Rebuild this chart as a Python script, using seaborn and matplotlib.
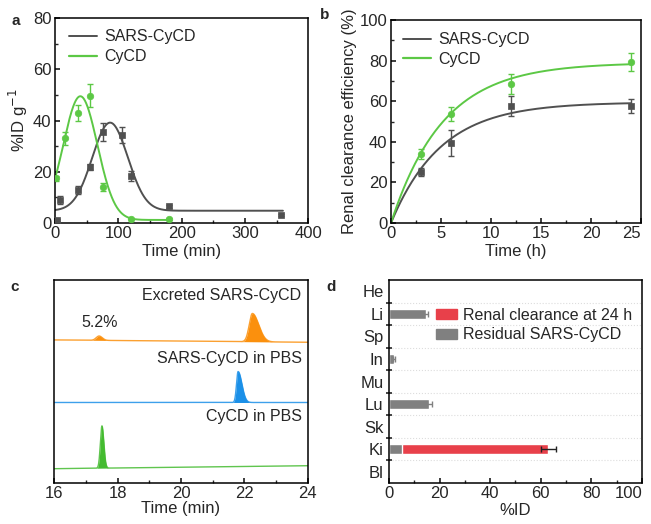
import numpy as np
import pandas as pd
import matplotlib
matplotlib.use("Agg")
import matplotlib.pyplot as plt
import seaborn as sns
from matplotlib.patches import Patch
from matplotlib.lines import Line2D
from matplotlib.ticker import MultipleLocator

# ---------------- data ----------------
# Panel a: blood kinetics (%ID g-1)
a_sars_t = [3, 8, 36, 56, 76, 106, 120, 180, 357]
a_sars_y = [1.0, 8.9, 13.0, 22.0, 35.5, 34.3, 18.3, 6.5, 3.3]
a_sars_err = [0.4, 1.5, 1.5, 1.2, 3.5, 3.0, 2.0, 0.5, 0.4]
a_cycd_t = [2, 16, 36, 56, 76, 120, 180]
a_cycd_y = [17.4, 33.0, 43.0, 49.7, 14.1, 1.7, 1.5]
a_cycd_err = [1.0, 2.5, 3.0, 4.5, 1.5, 0.3, 0.3]
# Gaussian fit parameters: baseline, amplitude, centre, width, last time
a_sars_fit = [4.8, 34.4, 87.0, 28.0, 360.0]
a_cycd_fit = [1.2, 48.3, 40.0, 27.0, 180.0]

# Panel b: renal clearance efficiency (%)
b_t = [3, 6, 12, 24]
b_sars = [25.0, 39.5, 57.7, 57.7]
b_sars_err = [2.0, 6.5, 5.0, 3.5]
b_cycd = [34.0, 53.6, 68.5, 79.3]
b_cycd_err = [2.5, 3.5, 5.0, 4.5]
# exponential rise fit parameters: plateau, time constant (h)
b_sars_fit = [59.5, 5.0]
b_cycd_fit = [79.0, 5.2]
b_xticks = [0, 5, 10, 15, 20, 25]

# Panel c: HPLC traces, peak parameters (centre min, height, left width, right width)
c_names = ["Excreted SARS-CyCD", "SARS-CyCD in PBS", "CyCD in PBS"]
c_baseline_left = [430, 242, 43]
c_baseline_right = [423, 242, 52]
c_peak_centres = [[17.42, 22.25], [21.80], [17.51]]
c_peak_heights = [[13, 85], [93], [127]]
c_peak_wl = [[0.09, 0.10], [0.05], [0.05]]
c_peak_wr = [[0.10, 0.20], [0.12], [0.06]]
c_annot = "5.2%"

# Panel d: biodistribution (%ID)
d_organs = ["He", "Li", "Sp", "In", "Mu", "Lu", "Sk", "Ki", "Bl"]
d_residual = [0, 14.5, 0, 2.0, 0, 16.0, 0, 5.0, 0]
d_residual_err = [0, 1.0, 0, 0.5, 0, 1.0, 0, 0, 0]
d_renal = [0, 0, 0, 0, 0, 0, 0, 58.0, 0]
d_renal_err = [0, 0, 0, 0, 0, 0, 0, 3.0, 0]
d_xticks = [0, 20, 40, 60, 80, 100]

# ---------------- style ----------------
sns.set_theme(style="ticks")
plt.rcParams["font.family"] = ["Liberation Sans", "DejaVu Sans"]
TXT = 11.5
plt.rcParams.update({
    "font.size": TXT,
    "axes.labelsize": 12,
    "xtick.labelsize": 12,
    "ytick.labelsize": 12,
    "legend.fontsize": TXT,
    "axes.linewidth": 1.1,
    "axes.edgecolor": "black",
    "xtick.direction": "in",
    "ytick.direction": "in",
    "xtick.major.size": 3.5,
    "ytick.major.size": 3.5,
    "xtick.minor.size": 2,
    "ytick.minor.size": 2,
    "xtick.major.pad": 2.5,
    "ytick.major.pad": 2.5,
    "axes.labelpad": 2,
})

GRAY = "#505050"
GREEN = "#5cc845"
ORANGE = "#fb900d"
BLUE = "#1b90e8"
CGREEN = "#44bb30"
RED = "#e8404a"
BARGRAY = "#808080"

fig = plt.figure(figsize=(6.51, 5.24), dpi=100)
ax_a = fig.add_axes([0.0845, 0.5744, 0.389, 0.391])
ax_b = fig.add_axes([0.6006, 0.5744, 0.384, 0.3874])
ax_c = fig.add_axes([0.083, 0.0782, 0.390, 0.3874])
ax_d = fig.add_axes([0.5975, 0.0782, 0.3887, 0.3874])

# ---------------- panel a ----------------
def gauss_fit(p, n=400):
    y0, amp, xc, w, tmax = p
    t = np.linspace(0, tmax, n)
    return t, y0 + amp * np.exp(-(t - xc) ** 2 / (2 * w ** 2))

for t, y, e, fit, col, mk in [
    (a_sars_t, a_sars_y, a_sars_err, a_sars_fit, GRAY, "s"),
    (a_cycd_t, a_cycd_y, a_cycd_err, a_cycd_fit, GREEN, "o"),
]:
    ft, fy = gauss_fit(fit)
    sns.lineplot(x=ft, y=fy, ax=ax_a, color=col, lw=1.4)
    ax_a.errorbar(t, y, yerr=e, fmt="none", ecolor=col, elinewidth=1, capsize=2.2, capthick=1)
    sns.scatterplot(x=t, y=y, ax=ax_a, color=col, marker=mk, s=22, edgecolor=col, linewidth=0.5, zorder=3)

ax_a.set_xlim(0, 400)
ax_a.set_ylim(0, 80)
ax_a.xaxis.set_major_locator(MultipleLocator(100))
ax_a.xaxis.set_minor_locator(MultipleLocator(50))
ax_a.yaxis.set_major_locator(MultipleLocator(20))
ax_a.yaxis.set_minor_locator(MultipleLocator(10))
ax_a.set_xlabel("Time (min)")
ax_a.set_ylabel("%ID g$^{-1}$")
ax_a.legend(handles=[Line2D([], [], color=GRAY, lw=1.4), Line2D([], [], color=GREEN, lw=1.6)],
            labels=["SARS-CyCD", "CyCD"], loc="upper left", bbox_to_anchor=(0.01, 1.0),
            frameon=False, handlelength=1.75, handletextpad=0.45, labelspacing=0.3, borderaxespad=0.3)

# ---------------- panel b ----------------
def exp_fit(p, n=300):
    A, tau = p
    t = np.linspace(0, 24, n)
    return t, A * (1 - np.exp(-t / tau))

for y, e, fit, col, mk in [
    (b_sars, b_sars_err, b_sars_fit, GRAY, "s"),
    (b_cycd, b_cycd_err, b_cycd_fit, GREEN, "o"),
]:
    ft, fy = exp_fit(fit)
    sns.lineplot(x=ft, y=fy, ax=ax_b, color=col, lw=1.4)
    ax_b.errorbar(b_t, y, yerr=e, fmt="none", ecolor=col, elinewidth=1, capsize=2.2, capthick=1)
    sns.scatterplot(x=b_t, y=y, ax=ax_b, color=col, marker=mk, s=22, edgecolor=col, linewidth=0.5, zorder=3)

ax_b.set_xlim(0, 25)
ax_b.set_ylim(0, 100)
ax_b.set_xticks(b_xticks)
ax_b.set_xticklabels([str(v) for v in b_xticks])
ax_b.xaxis.set_minor_locator(MultipleLocator(2.5))
ax_b.yaxis.set_major_locator(MultipleLocator(20))
ax_b.yaxis.set_minor_locator(MultipleLocator(10))
ax_b.get_xticklabels()[-1].set_horizontalalignment("right")
ax_b.set_xlabel("Time (h)")
ax_b.set_ylabel("Renal clearance efficiency (%)")
ax_b.legend(handles=[Line2D([], [], color=GRAY, lw=1.4), Line2D([], [], color=GREEN, lw=1.6)],
            labels=["SARS-CyCD", "CyCD"], loc="upper left", bbox_to_anchor=(0.005, 0.995),
            frameon=False, handlelength=1.75, handletextpad=0.45, labelspacing=0.3, borderaxespad=0.3)

# ---------------- panel c ----------------
tt = np.linspace(16, 24, 3000)
for i, col in enumerate([ORANGE, BLUE, CGREEN]):
    base = c_baseline_left[i] + (c_baseline_right[i] - c_baseline_left[i]) * (tt - 16) / 8
    sig = base.copy()
    for c0, h, wl, wr in zip(c_peak_centres[i], c_peak_heights[i], c_peak_wl[i], c_peak_wr[i]):
        w = np.where(tt < c0, wl, wr)
        sig = sig + h * np.exp(-(tt - c0) ** 2 / (2 * w ** 2))
    ax_c.fill_between(tt, base, sig, color=col, lw=0)
    sns.lineplot(x=tt, y=sig, ax=ax_c, color=col, lw=1.0, alpha=0.85)

ax_c.set_xlim(16, 24)
ax_c.set_ylim(0, 610)
ax_c.set_yticks([])
ax_c.xaxis.set_major_locator(MultipleLocator(2))
ax_c.xaxis.set_minor_locator(MultipleLocator(1))
ax_c.set_xlabel("Time (min)", labelpad=0)
ax_c.text(23.8, 565, c_names[0], ha="right", va="center", fontsize=TXT)
ax_c.text(23.8, 375, c_names[1], ha="right", va="center", fontsize=TXT)
ax_c.text(23.8, 200, c_names[2], ha="right", va="center", fontsize=TXT)
ax_c.text(17.45, 482, c_annot, ha="center", va="center", fontsize=TXT)

# ---------------- panel d ----------------
res = np.array(d_residual)
ren = np.array(d_renal)
tot = np.where(ren > 0, res + ren, 0)
dfd = pd.DataFrame({"organ": d_organs, "residual": res, "total": tot})
sns.barplot(data=dfd, x="total", y="organ", orient="h", color=RED, width=0.42,
            saturation=1, ax=ax_d, errorbar=None)
sns.barplot(data=dfd, x="residual", y="organ", orient="h", color=BARGRAY, width=0.42,
            saturation=1, ax=ax_d, errorbar=None)
ypos = np.arange(len(d_organs))
m = np.array(d_residual_err) > 0
ax_d.errorbar(res[m], ypos[m], xerr=np.array(d_residual_err)[m], fmt="none",
              ecolor=BARGRAY, elinewidth=1, capsize=2, capthick=1)
m2 = ren > 0
ax_d.errorbar(tot[m2], ypos[m2], xerr=np.array(d_renal_err)[m2], fmt="none",
              ecolor="#222222", elinewidth=1, capsize=2.5, capthick=1)

ax_d.set_xlim(0, 100)
ax_d.set_ylim(len(d_organs) - 0.5, -0.5)
ax_d.set_xticks(d_xticks)
ax_d.set_xticklabels([str(v) for v in d_xticks])
ax_d.xaxis.set_minor_locator(MultipleLocator(10))
ax_d.get_xticklabels()[-1].set_horizontalalignment("right")
ax_d.set_yticks(np.arange(0.5, len(d_organs) - 1, 1.0), minor=True)
ax_d.tick_params(axis="y", which="major", length=0, pad=4)
ax_d.tick_params(axis="y", which="minor", direction="inout", length=4, width=1.2)
ax_d.grid(axis="y", which="minor", color="#dddddd", ls=":", lw=0.8)
ax_d.set_xlabel("%ID", labelpad=1)
ax_d.set_ylabel("")
ax_d.legend(handles=[Patch(color=RED), Patch(color=BARGRAY)],
            labels=["Renal clearance at 24 h", "Residual SARS-CyCD"],
            loc="upper left", bbox_to_anchor=(0.13, 0.935), frameon=False,
            handlelength=1.3, handleheight=0.6, handletextpad=0.4, labelspacing=0.3)

for ax in (ax_a, ax_b, ax_c, ax_d):
    for s in ax.spines.values():
        s.set_visible(True)
        s.set_color("black")
        s.set_linewidth(1.1)

# panel labels
for lbl, x, y in [("a", 16, 21), ("b", 325, 15), ("c", 15, 287), ("d", 331, 287)]:
    fig.text(x / 651, 1 - y / 524, lbl, fontsize=11, fontweight="bold", ha="center", va="center")

fig.savefig("out.png", dpi=100)
